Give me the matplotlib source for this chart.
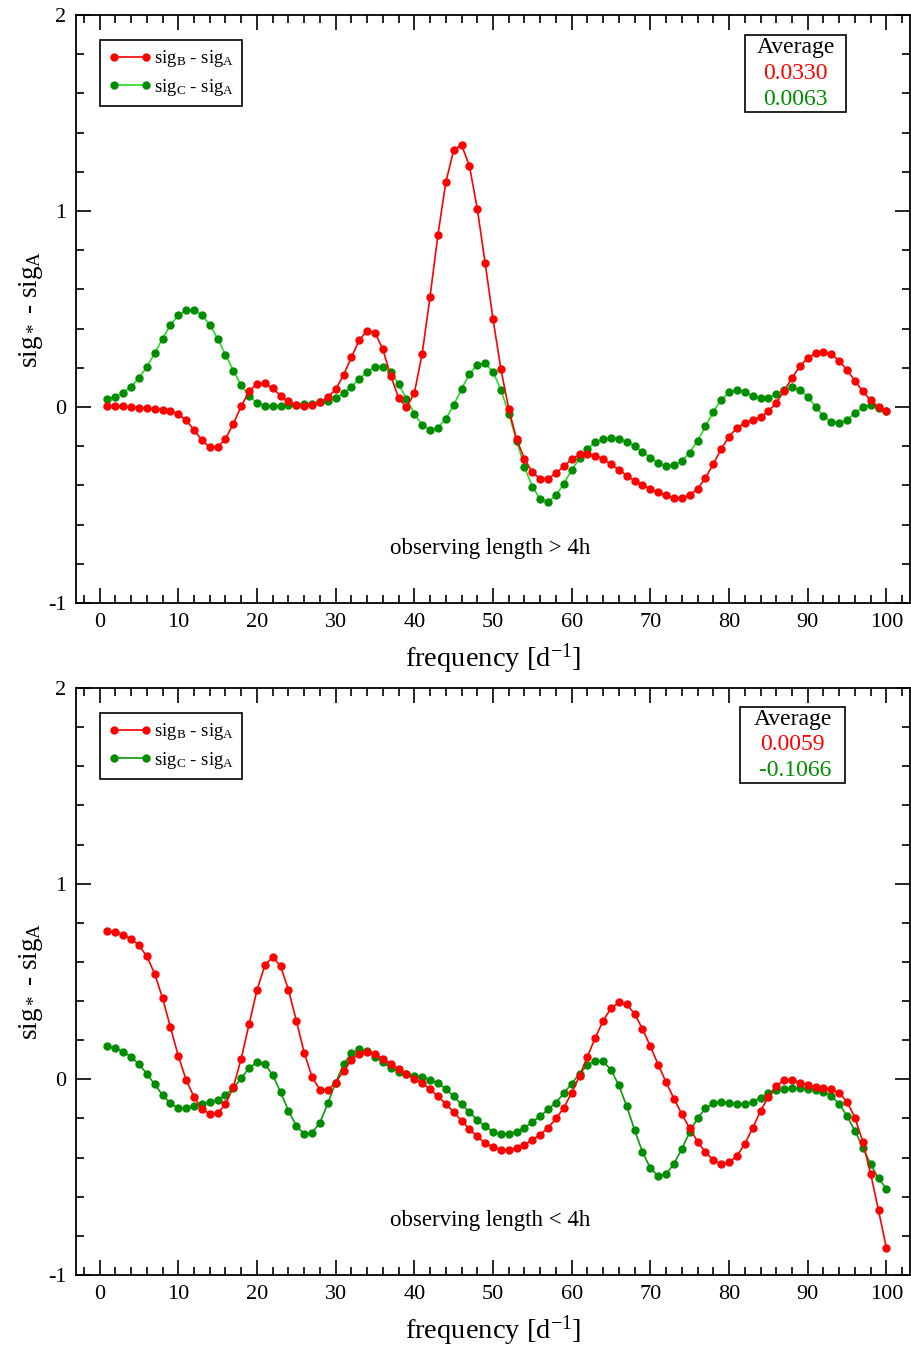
import matplotlib
matplotlib.use("Agg")
import matplotlib.pyplot as plt
from matplotlib.patches import Rectangle
from matplotlib.ticker import MultipleLocator

plt.rcParams['font.family'] = ['Liberation Serif', 'DejaVu Serif']
plt.rcParams['mathtext.fontset'] = 'custom'
plt.rcParams['mathtext.rm'] = 'Liberation Serif'
plt.rcParams['mathtext.it'] = 'Liberation Serif:italic'
plt.rcParams['axes.unicode_minus'] = False

freq = list(range(1, 101))

# observing length > 4h
long_b = [0.007, 0.007, 0.003, 0.000, -0.003, -0.007, -0.010, -0.014, -0.019, -0.036,
          -0.068, -0.117, -0.170, -0.206, -0.206, -0.162, -0.085, 0.003, 0.080, 0.119,
          0.122, 0.095, 0.058, 0.029, 0.010, 0.005, 0.010, 0.024, 0.049, 0.090,
          0.162, 0.253, 0.341, 0.390, 0.380, 0.294, 0.160, 0.046, -0.002, 0.071,
          0.272, 0.563, 0.878, 1.146, 1.311, 1.338, 1.230, 1.012, 0.735, 0.449,
          0.194, -0.009, -0.165, -0.265, -0.333, -0.366, -0.366, -0.338, -0.303, -0.267,
          -0.241, -0.238, -0.248, -0.267, -0.293, -0.320, -0.350, -0.377, -0.398, -0.417,
          -0.435, -0.451, -0.463, -0.464, -0.449, -0.418, -0.362, -0.291, -0.214, -0.151,
          -0.107, -0.082, -0.066, -0.051, -0.022, 0.022, 0.082, 0.148, 0.208, 0.250,
          0.274, 0.279, 0.269, 0.236, 0.189, 0.134, 0.080, 0.034, -0.002, -0.020]
long_c = [0.041, 0.053, 0.073, 0.104, 0.148, 0.204, 0.274, 0.349, 0.418, 0.468,
          0.493, 0.495, 0.469, 0.420, 0.349, 0.267, 0.185, 0.111, 0.056, 0.022,
          0.007, 0.005, 0.007, 0.010, 0.012, 0.015, 0.017, 0.024, 0.032, 0.046,
          0.070, 0.104, 0.143, 0.180, 0.206, 0.206, 0.177, 0.117, 0.042, -0.034,
          -0.092, -0.117, -0.105, -0.061, 0.009, 0.092, 0.167, 0.216, 0.223, 0.180,
          0.088, -0.034, -0.172, -0.305, -0.408, -0.469, -0.483, -0.451, -0.391, -0.321,
          -0.262, -0.214, -0.180, -0.163, -0.157, -0.163, -0.177, -0.198, -0.230, -0.259,
          -0.286, -0.299, -0.298, -0.276, -0.233, -0.172, -0.099, -0.024, 0.036, 0.075,
          0.087, 0.077, 0.056, 0.044, 0.046, 0.065, 0.087, 0.100, 0.088, 0.053,
          0.002, -0.047, -0.077, -0.083, -0.065, -0.032, -0.002, 0.009, -0.003, -0.022]

# observing length < 4h
short_b = [0.756, 0.751, 0.738, 0.718, 0.686, 0.628, 0.540, 0.415, 0.267, 0.120,
           -0.003, -0.090, -0.150, -0.178, -0.172, -0.128, -0.039, 0.106, 0.282, 0.456,
           0.582, 0.626, 0.578, 0.458, 0.300, 0.137, 0.012, -0.053, -0.056, -0.017,
           0.043, 0.099, 0.131, 0.138, 0.130, 0.105, 0.079, 0.053, 0.028, 0.002,
           -0.020, -0.051, -0.087, -0.125, -0.167, -0.212, -0.254, -0.292, -0.326, -0.347,
           -0.360, -0.360, -0.353, -0.336, -0.309, -0.282, -0.248, -0.200, -0.146, -0.068,
           0.017, 0.116, 0.212, 0.300, 0.363, 0.393, 0.383, 0.334, 0.258, 0.169,
           0.075, -0.015, -0.099, -0.178, -0.251, -0.318, -0.372, -0.413, -0.432, -0.425,
           -0.391, -0.331, -0.249, -0.162, -0.089, -0.032, -0.005, -0.003, -0.017, -0.031,
           -0.041, -0.046, -0.051, -0.070, -0.114, -0.196, -0.319, -0.482, -0.670, -0.862]
short_c = [0.169, 0.159, 0.140, 0.115, 0.077, 0.029, -0.026, -0.080, -0.123, -0.147,
           -0.145, -0.135, -0.125, -0.116, -0.104, -0.080, -0.044, 0.005, 0.058, 0.087,
           0.077, 0.023, -0.065, -0.161, -0.237, -0.280, -0.272, -0.222, -0.123, -0.017,
           0.077, 0.133, 0.153, 0.144, 0.116, 0.087, 0.058, 0.039, 0.026, 0.019,
           0.012, -0.002, -0.020, -0.049, -0.087, -0.128, -0.167, -0.207, -0.241, -0.267,
           -0.280, -0.278, -0.267, -0.247, -0.219, -0.188, -0.154, -0.119, -0.071, -0.022,
           0.029, 0.074, 0.096, 0.092, 0.048, -0.031, -0.138, -0.260, -0.371, -0.454,
           -0.494, -0.484, -0.432, -0.355, -0.270, -0.198, -0.149, -0.123, -0.118, -0.121,
           -0.126, -0.126, -0.114, -0.094, -0.072, -0.056, -0.048, -0.046, -0.046, -0.048,
           -0.053, -0.063, -0.085, -0.126, -0.188, -0.263, -0.349, -0.434, -0.506, -0.559]

panels = [
    dict(b=long_b, c=long_c, note="observing length > 4h",
         avg=("0.0330", "0.0063"), cline="#22dd22"),
    dict(b=short_b, c=short_c, note="observing length < 4h",
         avg=("0.0059", " -0.1066"), cline="#0a9a0a"),
]

W, H = 911, 1346
fig = plt.figure(figsize=(W / 100, H / 100), dpi=100)
ax_top = fig.add_axes([76 / W, 1 - 603 / H, 834 / W, 588 / H])
ax_bot = fig.add_axes([76 / W, 1 - 1275 / H, 834 / W, 587 / H])

for ax, p in zip([ax_top, ax_bot], panels):
    ax.plot(freq, p['b'], '-o', color='red', lw=1.2, ms=5, mec='red',
            label=r'sig$_\mathrm{B}$ - sig$_\mathrm{A}$', zorder=3)
    ax.plot(freq, p['c'], '-o', color=p['cline'], lw=1.2, ms=5,
            mfc='#008c00', mec='#008c00',
            label=r'sig$_\mathrm{C}$ - sig$_\mathrm{A}$', zorder=2)

    ax.set_xlim(-3, 103)
    ax.set_ylim(-1, 2)
    ax.xaxis.set_major_locator(MultipleLocator(10))
    ax.xaxis.set_minor_locator(MultipleLocator(2))
    ax.yaxis.set_major_locator(MultipleLocator(1))
    ax.yaxis.set_minor_locator(MultipleLocator(0.2))
    ax.tick_params(which='both', direction='in', top=True, right=True,
                   width=1.2, labelsize=16)
    ax.tick_params(which='major', length=11, pad=7)
    ax.tick_params(which='minor', length=5.5)
    for s in ax.spines.values():
        s.set_linewidth(1.3)

    ax.set_xlabel(r'frequency [d$^{-1}$]', fontsize=20.5, labelpad=7)
    ax.set_ylabel(r'sig$_*$ - sig$_\mathrm{A}$', fontsize=19.5, labelpad=2)

    ax.text(49.6, -0.72, p['note'], fontsize=16.5, ha='center', va='center')

    leg = ax.legend(loc='upper left', bbox_to_anchor=(0.029, 0.958),
                    borderaxespad=0, numpoints=2, handlelength=2.3,
                    fontsize=13.5, frameon=True, fancybox=False,
                    edgecolor='black', framealpha=1, borderpad=0.45,
                    labelspacing=0.4, handletextpad=0.1)
    leg.get_frame().set_linewidth(1.2)

# "Average" boxes
boxes = [(ax_top, 745, 846, 35, 112, 15, 588), (ax_bot, 740, 845, 707, 783, 688, 587)]
for (ax, x0, x1, y0, y1, top, hgt), p in zip(boxes, panels):
    fx0 = (x0 - 76) / 834
    fx1 = (x1 - 76) / 834
    fy0 = 1 - (y1 - top) / hgt
    fy1 = 1 - (y0 - top) / hgt
    ax.add_patch(Rectangle((fx0, fy0), fx1 - fx0, fy1 - fy0, transform=ax.transAxes,
                           fill=True, facecolor='white', edgecolor='black', lw=1.2,
                           zorder=5))
    cx = (fx0 + fx1) / 2
    step = (fy1 - fy0) / 3
    ax.text(cx, fy1 - 0.5 * step, "Average", transform=ax.transAxes, fontsize=17,
            ha='center', va='center', zorder=6)
    ax.text(cx, fy1 - 1.5 * step, p['avg'][0], transform=ax.transAxes, fontsize=17,
            ha='center', va='center', color='red', zorder=6)
    ax.text(cx, fy1 - 2.5 * step, p['avg'][1], transform=ax.transAxes, fontsize=17,
            ha='center', va='center', color='#008c00', zorder=6)

fig.savefig("out.png", dpi=100)
